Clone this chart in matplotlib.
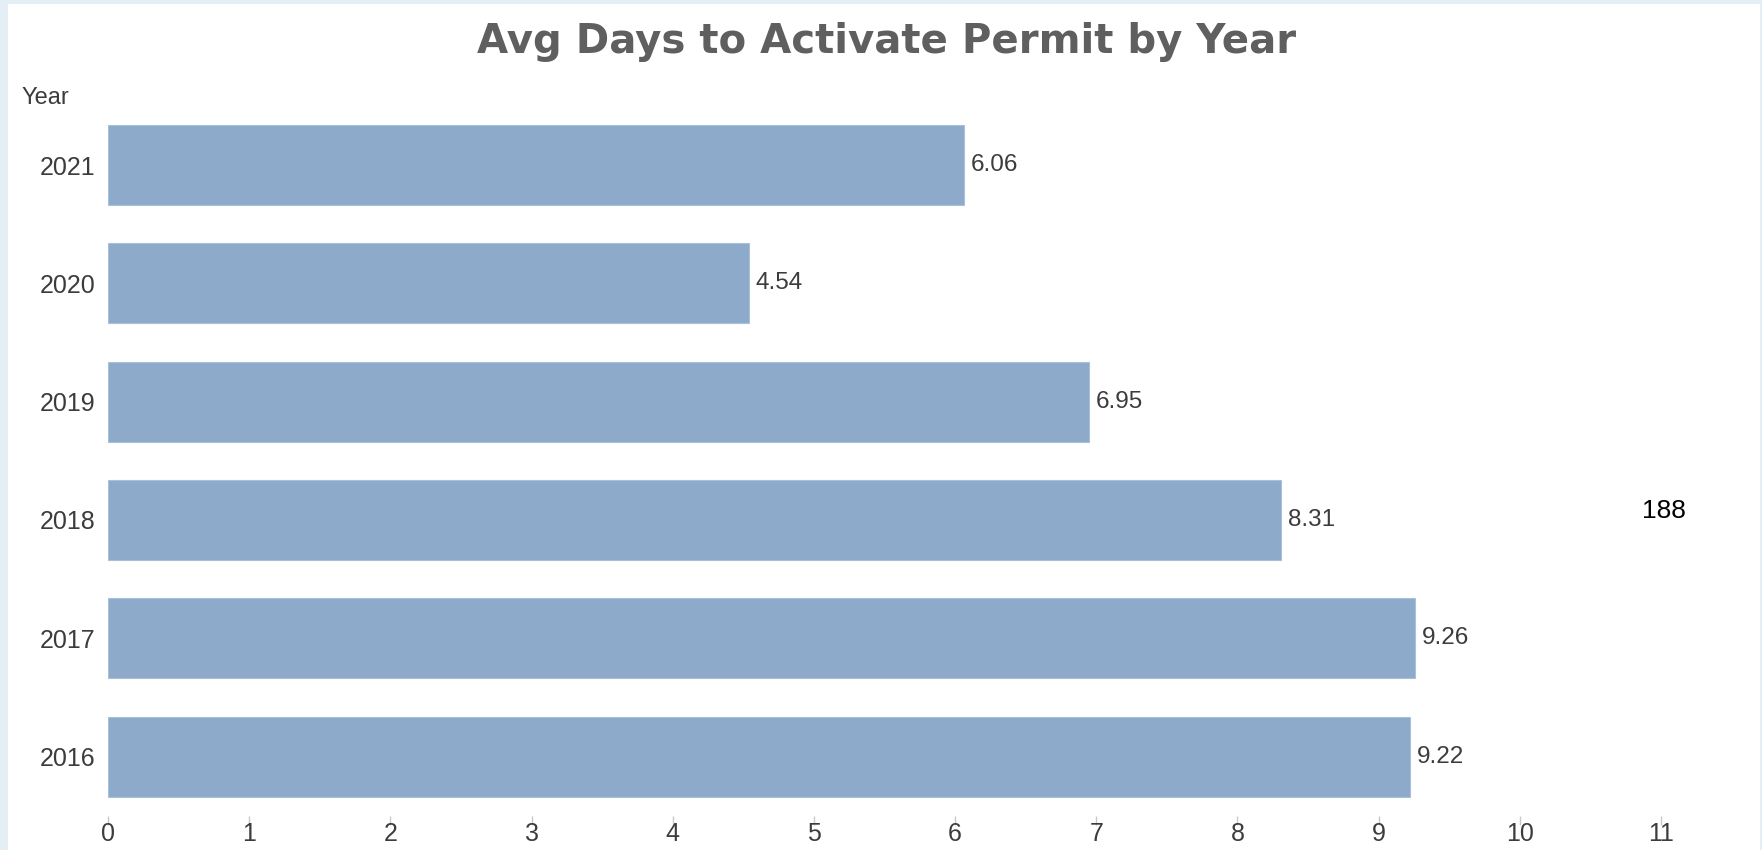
import matplotlib.pyplot as plt
from matplotlib.patches import Rectangle

years = ["2016", "2017", "2018", "2019", "2020", "2021"]
avg_days = [9.22, 9.26, 8.31, 6.95, 4.54, 6.06]
x_ticks = list(range(0, 12))
extra_label = "188"

narrow = ['Liberation Sans Narrow', 'Liberation Sans']

W, H = 1762, 850
fig = plt.figure(figsize=(W / 100, H / 100), dpi=100)
fig.patch.set_facecolor('#e3eef5')
# white panel inside the light blue frame
fig.patches.append(Rectangle((8 / W, 0), (1760 - 8) / W, (H - 4) / H,
                             transform=fig.transFigure, facecolor='white',
                             edgecolor='none', zorder=-5))

ax = fig.add_axes([108 / W, 34.3 / H, (11.5 * 141.18) / W, (744.1 - 34.3) / H])
ax.set_facecolor('none')
ax.set_zorder(2)

pos = list(range(len(years)))
ax.barh(pos, avg_days, height=0.676, color='#8eaacb', edgecolor='#a9c0da', linewidth=0.8)

for p, v in zip(pos, avg_days):
    ax.annotate(f"{v:.2f}", (v, p), xytext=(5, 0), textcoords='offset points',
                va='center', ha='left', fontsize=17.5, color='#3c3c3c', family=narrow)

ax.set_xlim(0, 11.5)
ax.set_ylim(-0.5, 5.5)
ax.set_xticks(x_ticks)
ax.set_yticks(pos)
ax.set_yticklabels(years)
for s in ax.spines.values():
    s.set_visible(False)
ax.tick_params(axis='x', length=6.5, width=1, color='#c8c8c8', pad=-2,
               labelsize=18, labelcolor='#3c3c3c')
ax.tick_params(axis='y', length=0, pad=9, labelsize=18, labelcolor='#3c3c3c')
for lab in ax.get_xticklabels() + ax.get_yticklabels():
    lab.set_family(narrow)

fig.text(887 / W, (H - 53) / H, "Avg Days to Activate Permit by Year",
         ha='center', va='baseline', fontsize=29, fontweight='bold',
         color='#5f5f5f', family='DejaVu Sans')
fig.text(22 / W, (H - 104) / H, "Year", ha='left', va='baseline',
         fontsize=17, color='#3c3c3c', family=narrow)
fig.text(1664 / W, (H - 511) / H, extra_label, ha='center', va='center',
         fontsize=19, color='black', family='Liberation Sans')

fig.savefig('out.png', dpi=100, facecolor=fig.get_facecolor())
